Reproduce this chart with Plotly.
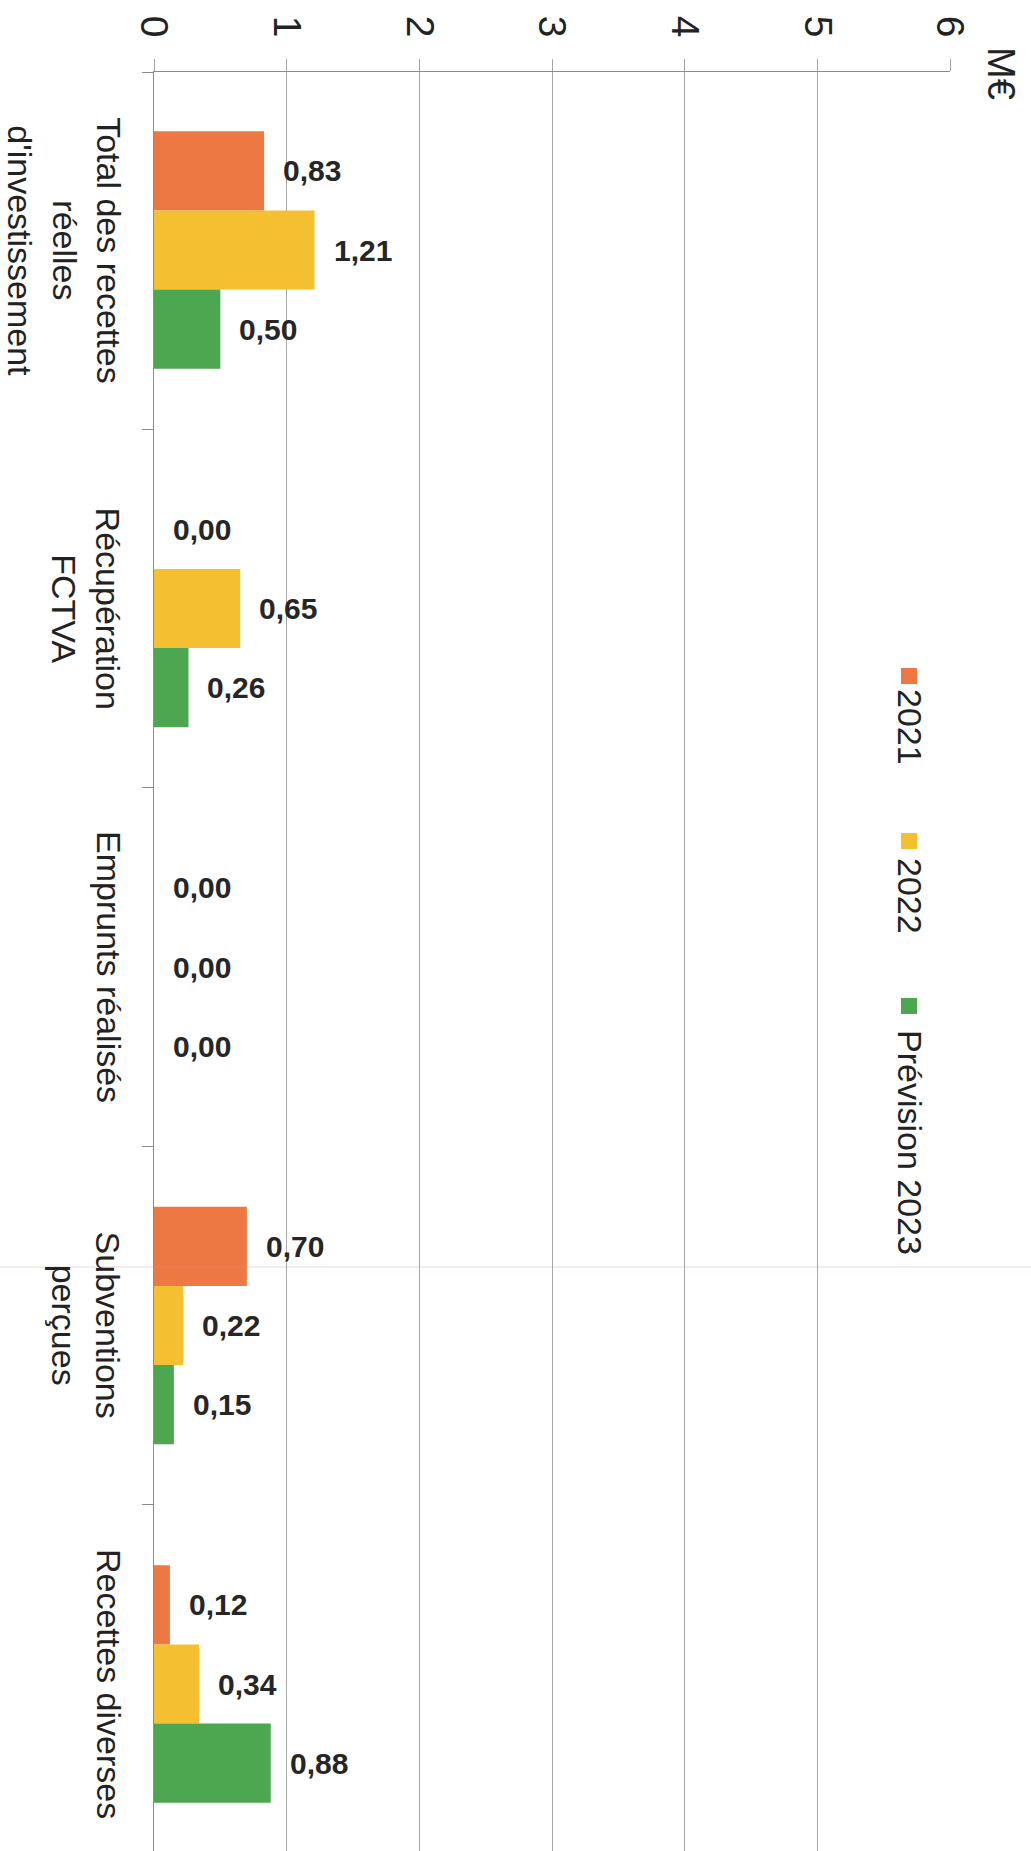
import plotly.graph_objects as go

# Categories (top to bottom) and yearly values in M€
categories = [
    "Total des recettes<br>réelles<br>d'investissement",
    "Récupération<br>FCTVA",
    "Emprunts réalisés",
    "Subventions<br>perçues",
    "Recettes diverses",
]
series_names = ["2021", "2022", "Prévision 2023"]
values_2021 = [0.83, 0.00, 0.00, 0.70, 0.12]
values_2022 = [1.21, 0.65, 0.00, 0.22, 0.34]
values_2023 = [0.50, 0.26, 0.00, 0.15, 0.88]
colors = ["#EE7844", "#F4BF31", "#4DA751"]
x_ticks = [0, 1, 2, 3, 4, 5, 6]
unit_label = "M€"

W, H = 1031, 1851
ML, MR, MT, MB = 154, 81, 72, 0
plot_h = H - MT - MB
plot_w = W - ML - MR

# category spacing in pixels and the first category centre
cat_px = 358.5
first_center_px = 250
y_top = -(first_center_px - MT) / cat_px
y_bottom = (H - MB - first_center_px) / cat_px

bargap = 0.338
bar_w = (1 - bargap) / 3

positions = list(range(len(categories)))
all_series = [values_2021, values_2022, values_2023]


def px_to_paper_x(px):
    return (px - ML) / plot_w


def px_to_paper_y(py):
    return (H - MB - py) / plot_h


fig = go.Figure()
for name, vals, col in zip(series_names, all_series, colors):
    fig.add_trace(go.Bar(
        x=vals, y=positions, orientation="h", name=name,
        marker=dict(color=col, line=dict(width=0)),
        hoverinfo="skip",
    ))

base_font = "Liberation Sans, Arial, sans-serif"

annotations = []
# value labels next to each bar
for i, vals in enumerate(all_series):
    off = (i - 1) * bar_w
    for k, v in enumerate(vals):
        annotations.append(dict(
            x=v, y=positions[k] + off, xref="x", yref="y",
            text="<b>" + f"{v:.2f}".replace(".", ",") + "</b>",
            showarrow=False, xanchor="left", yanchor="middle", xshift=17,
            font=dict(family=base_font, size=30, color="#262626"),
        ))

# category labels, rotated, to the left of the plot
cat_font = 34
line_gap = 1.3 * cat_font
for k, cat in enumerate(categories):
    n_lines = cat.count("<br>") + 1
    centre_px = 109 - (n_lines - 1) * line_gap / 2
    annotations.append(dict(
        x=0, y=positions[k], xref="paper", yref="y",
        text=cat, textangle=90, showarrow=False,
        xanchor="center", yanchor="middle", align="center",
        xshift=centre_px - ML,
        font=dict(family=base_font, size=cat_font, color="#222222"),
    ))

# unit label
annotations.append(dict(
    x=px_to_paper_x(1001), y=px_to_paper_y(73), xref="paper", yref="paper",
    text=unit_label, textangle=90, showarrow=False,
    xanchor="center", yanchor="middle",
    font=dict(family=base_font, size=38, color="#222222"),
))

# legend entries, rotated like the rest of the page
legend_text_centres = [727, 896, 1142]
legend_square_centres = [676, 841, 1006]
sq = 16
shapes = []
for name, col, ty, sy in zip(series_names, colors, legend_text_centres, legend_square_centres):
    annotations.append(dict(
        x=px_to_paper_x(910), y=px_to_paper_y(ty), xref="paper", yref="paper",
        text=name, textangle=90,
        showarrow=False, xanchor="center", yanchor="middle",
        font=dict(family=base_font, size=34, color="#222222"),
    ))
    shapes.append(dict(
        type="rect", xref="paper", yref="paper",
        x0=px_to_paper_x(909 - sq / 2), x1=px_to_paper_x(909 + sq / 2),
        y0=px_to_paper_y(sy + sq / 2), y1=px_to_paper_y(sy - sq / 2),
        fillcolor=col, line=dict(width=0),
    ))

# faint pink streak across the page
shapes.append(dict(
    type="line", xref="paper", yref="paper",
    x0=px_to_paper_x(0), x1=px_to_paper_x(W),
    y0=px_to_paper_y(1267), y1=px_to_paper_y(1267),
    line=dict(color="rgba(232,130,130,0.35)", width=1),
))

fig.update_layout(
    width=W, height=H,
    margin=dict(l=ML, r=MR, t=MT, b=MB, pad=0),
    barmode="group", bargap=bargap, bargroupgap=0,
    showlegend=False,
    plot_bgcolor="white", paper_bgcolor="white",
    annotations=annotations, shapes=shapes,
    xaxis=dict(
        side="top", range=[0, 6], tickvals=x_ticks,
        ticktext=[str(t) for t in x_ticks],
        tickangle=90, tickfont=dict(family=base_font, size=39, color="#222222"),
        ticks="outside", ticklen=12, tickcolor="#a4a4a4", tickwidth=1,
        ticklabelstandoff=8,
        showgrid=True, gridcolor="#a8a8a8", gridwidth=1,
        showline=True, linecolor="#8c8c8c", linewidth=1,
        zeroline=False, fixedrange=True,
    ),
    yaxis=dict(
        range=[y_bottom, y_top],
        tickvals=[y_top, 0.5, 1.5, 2.5, 3.5],
        ticks="outside", ticklen=11, tickcolor="#8c8c8c", tickwidth=1,
        showticklabels=False, showgrid=False, zeroline=False,
        showline=True, linecolor="#8c8c8c", linewidth=1, fixedrange=True,
    ),
)

fig.write_html("out.html")
